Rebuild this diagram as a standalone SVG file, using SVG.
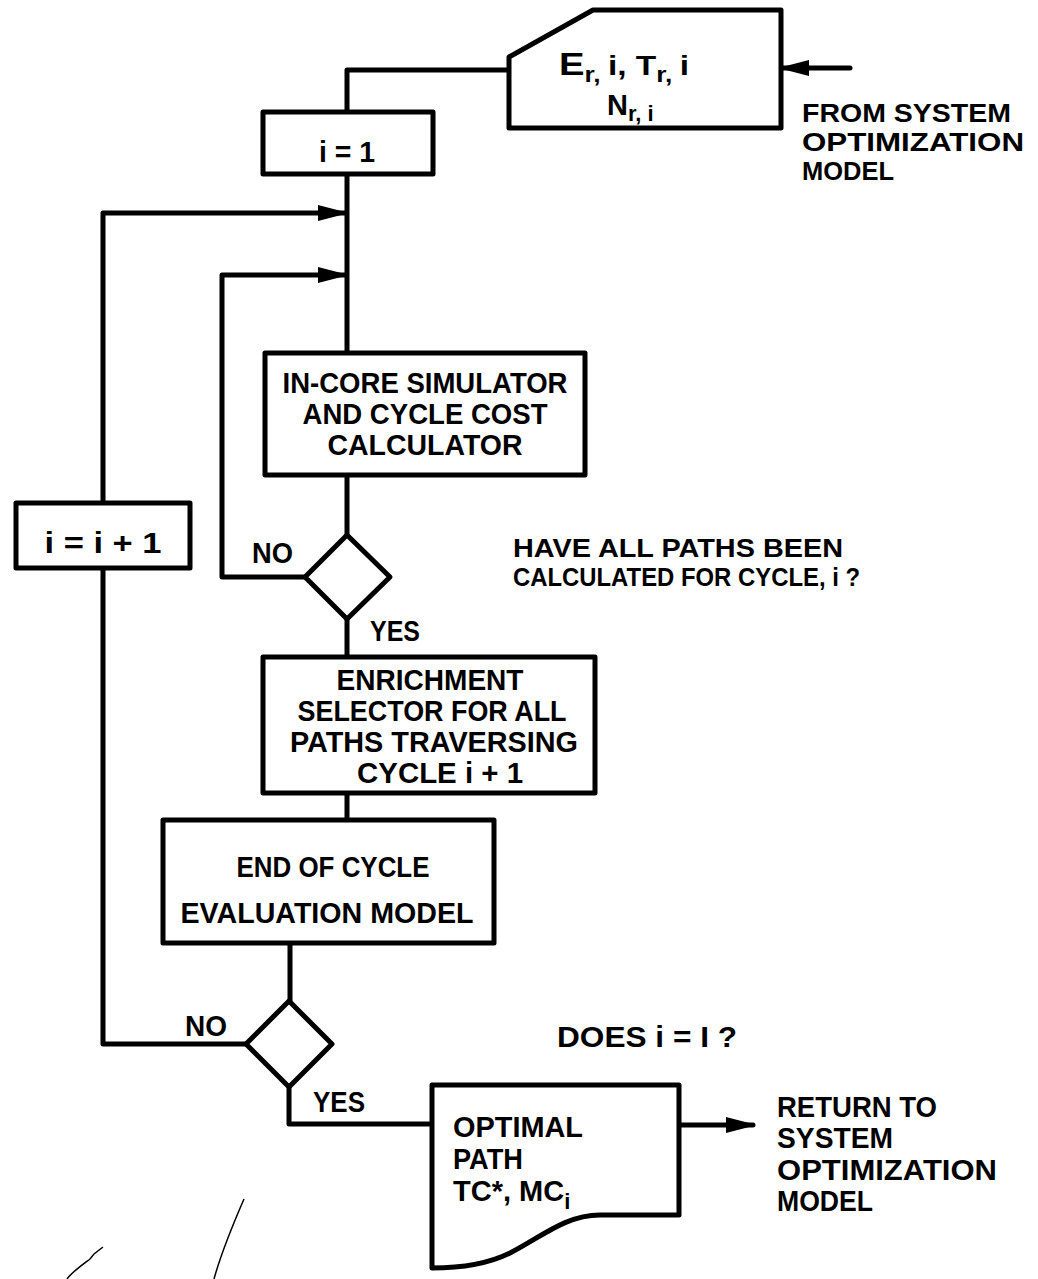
<svg xmlns="http://www.w3.org/2000/svg" width="1038" height="1279" viewBox="0 0 1038 1279">
<style>
.s{fill:none;stroke:#000;stroke-width:5;stroke-linejoin:round;stroke-linecap:round}
.n{fill:#fff;stroke:#000;stroke-width:5;stroke-linejoin:round}
.t{font-family:"Liberation Sans",Arial,sans-serif;font-weight:bold;font-size:29px;fill:#000}
.q{font-size:26px}
.m{text-anchor:middle}
.sub{font-size:22px}
.scratch{fill:none;stroke:#000;stroke-width:1.5}
</style>
<defs>
<marker id="ah" markerUnits="userSpaceOnUse" markerWidth="27" markerHeight="18" refX="27" refY="9" orient="auto">
<path d="M0,1 L27,8 L27,10 L0,17 Z" fill="#000"/>
</marker>
</defs>
<rect width="1038" height="1279" fill="#fff"/>
<g id="connectors">
<path class="s" d="M509,70 H347 V112"/>
<path class="s" d="M347,174 V353"/>
<path class="s" d="M103,503 V213 H345" marker-end="url(#ah)"/>
<path class="s" d="M305,577 H222 V275 H345" marker-end="url(#ah)"/>
<path class="s" d="M347,475 V535"/>
<path class="s" d="M347,619 V657"/>
<path class="s" d="M347,793 V820"/>
<path class="s" d="M290,943 V1001"/>
<path class="s" d="M246,1044 H103 V568"/>
<path class="s" d="M289,1087 V1124 H432"/>
<path class="s" d="M679,1125 H753" marker-end="url(#ah)"/>
<path class="s" d="M850,68 H782" marker-end="url(#ah)"/>
</g>
<g id="input">
<polygon class="n" points="509,57 593,10 781,10 781,128 509,128"/>
<text class="t" x="559" y="75" style="font-size:32px" textLength="130" lengthAdjust="spacingAndGlyphs">E<tspan class="sub" dy="7">r, </tspan><tspan dy="-7" style="font-size:28px">i, T</tspan><tspan class="sub" dy="7">r, </tspan><tspan dy="-7" style="font-size:28px">i</tspan></text>
<text class="t" x="607" y="115">N<tspan class="sub" dy="6">r, i</tspan></text>
</g>
<g id="from-label">
<text class="t q" x="802" y="122" textLength="209" lengthAdjust="spacingAndGlyphs">FROM SYSTEM</text>
<text class="t q" x="802" y="151" textLength="222" lengthAdjust="spacingAndGlyphs">OPTIMIZATION</text>
<text class="t q" x="802" y="180" textLength="92" lengthAdjust="spacingAndGlyphs">MODEL</text>
</g>
<g id="init">
<rect class="n" x="263" y="112" width="170" height="62"/>
<text class="t m" x="347" y="162" textLength="56" lengthAdjust="spacingAndGlyphs">i = 1</text>
</g>
<g id="increment">
<rect class="n" x="16" y="503" width="174" height="65"/>
<text class="t m" x="103" y="553" textLength="117" lengthAdjust="spacingAndGlyphs">i = i + 1</text>
</g>
<g id="simulator">
<rect class="n" x="265" y="353" width="320" height="122"/>
<text class="t m" x="425" y="393" textLength="285" lengthAdjust="spacingAndGlyphs">IN-CORE SIMULATOR</text>
<text class="t m" x="425" y="424" textLength="245" lengthAdjust="spacingAndGlyphs">AND CYCLE COST</text>
<text class="t m" x="425" y="455" textLength="195" lengthAdjust="spacingAndGlyphs">CALCULATOR</text>
</g>
<g id="decision1">
<polygon class="n" points="347,535 390,577 347,619 305,577"/>
<text class="t" x="252" y="563" textLength="41" lengthAdjust="spacingAndGlyphs">NO</text>
<text class="t" x="370" y="641" textLength="50" lengthAdjust="spacingAndGlyphs">YES</text>
</g>
<g id="question1">
<text class="t q" x="513" y="557" textLength="330" lengthAdjust="spacingAndGlyphs">HAVE ALL PATHS BEEN</text>
<text class="t q" x="513" y="586" textLength="347" lengthAdjust="spacingAndGlyphs">CALCULATED FOR CYCLE, i ?</text>
</g>
<g id="enrichment">
<rect class="n" x="263" y="657" width="332" height="136"/>
<text class="t m" x="430" y="690" textLength="187" lengthAdjust="spacingAndGlyphs">ENRICHMENT</text>
<text class="t m" x="432" y="721" textLength="269" lengthAdjust="spacingAndGlyphs">SELECTOR FOR ALL</text>
<text class="t m" x="434" y="752" textLength="288" lengthAdjust="spacingAndGlyphs">PATHS TRAVERSING</text>
<text class="t m" x="440" y="783" textLength="166" lengthAdjust="spacingAndGlyphs">CYCLE i + 1</text>
</g>
<g id="evaluation">
<rect class="n" x="163" y="820" width="331" height="123"/>
<text class="t m" x="333" y="877" textLength="193" lengthAdjust="spacingAndGlyphs">END OF CYCLE</text>
<text class="t m" x="327" y="923" textLength="293" lengthAdjust="spacingAndGlyphs">EVALUATION MODEL</text>
</g>
<g id="decision2">
<polygon class="n" points="289,1001 332,1044 289,1087 246,1044"/>
<text class="t" x="185" y="1036" textLength="42" lengthAdjust="spacingAndGlyphs">NO</text>
<text class="t" x="313" y="1112" textLength="52" lengthAdjust="spacingAndGlyphs">YES</text>
</g>
<g id="question2">
<text class="t" x="557" y="1047" textLength="180" lengthAdjust="spacingAndGlyphs">DOES i = I ?</text>
</g>
<g id="output">
<path class="n" d="M432,1085 H679 V1215 H600 C565,1215 540,1238 510,1253 C488,1264 462,1268 432,1268 Z"/>
<text class="t" x="453" y="1137" textLength="130" lengthAdjust="spacingAndGlyphs">OPTIMAL</text>
<text class="t" x="453" y="1169" textLength="70" lengthAdjust="spacingAndGlyphs">PATH</text>
<text class="t" x="453" y="1201">TC*, MC<tspan class="sub" dy="8">i</tspan></text>
</g>
<g id="return-label">
<text class="t" x="777" y="1117" textLength="160" lengthAdjust="spacingAndGlyphs">RETURN TO</text>
<text class="t" x="777" y="1148" textLength="116" lengthAdjust="spacingAndGlyphs">SYSTEM</text>
<text class="t" x="777" y="1180" textLength="220" lengthAdjust="spacingAndGlyphs">OPTIMIZATION</text>
<text class="t" x="777" y="1211" textLength="96" lengthAdjust="spacingAndGlyphs">MODEL</text>
</g>
<g id="marks">
<path class="scratch" d="M244,1199 C234,1222 222,1250 214,1279"/>
<path class="scratch" d="M103,1247 L94,1254 L90,1259 C82,1265 72,1272 67,1279"/>
</g>
</svg>
